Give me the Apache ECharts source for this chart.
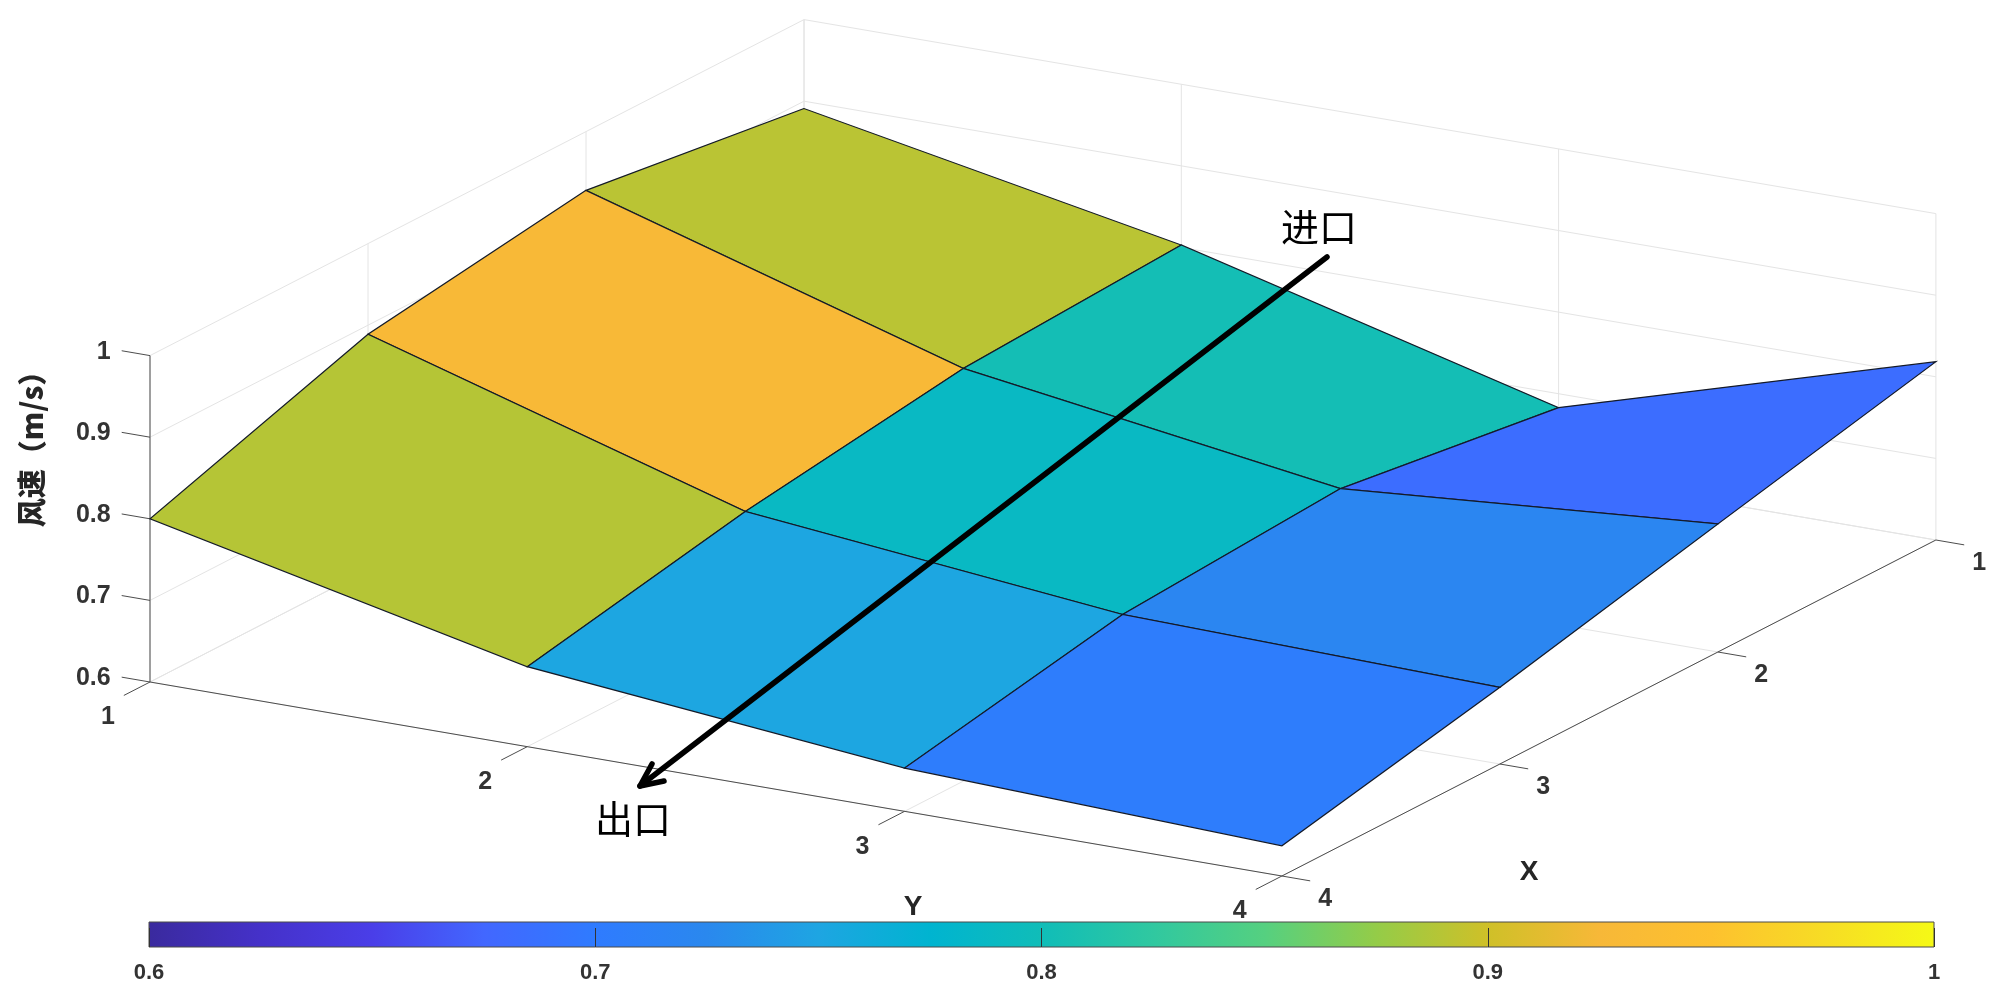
<!DOCTYPE html>
<html>
<head>
<meta charset="utf-8">
<title>风速</title>
<script src="https://cdn.jsdelivr.net/npm/echarts@6/dist/echarts.min.js"></script>
<style>
html, body { margin: 0; padding: 0; background: #fff; }
#chart { width: 2000px; height: 997px; }
</style>
</head>
<body>
<div id="chart"></div>
<script>
// surface values, one row per Y, left to right is X = 1..4
const xTicks = [1, 2, 3, 4];
const yTicks = [1, 2, 3, 4];
const zTicks = [0.6, 0.7, 0.8, 0.9, 1];
const colorTicks = [0.6, 0.7, 0.8, 0.9, 1];
const speedY1 = [0.891, 0.928, 0.889, 0.8];
const speedY2 = [0.803, 0.789, 0.751, 0.698];
const speedY3 = [0.683, 0.721, 0.704, 0.653];
const speedY4 = [0.8185, 0.757, 0.694, 0.637];
const speedRows = [speedY1, speedY2, speedY3, speedY4];
// colormap of the colorbar, evenly spaced from 0.6 to 1
const colormap = [
  "#3a2a9e", "#4531c9", "#4a3ee8", "#4267ff", "#2f7bff", "#2a88ee",
  "#1ea5e2", "#00b4d0", "#10bdb8", "#30c8a0", "#55d080", "#94cc48",
  "#cfc028", "#f7b838", "#fdc12f", "#f7dc25", "#f5f916",
];

const zMin = 0.6;
const zMax = 1;
const fontNum = '"Liberation Sans", Arial, sans-serif';
const fontCjk = '"Noto Sans CJK SC", sans-serif';

// orthographic view, same as the matlab axes
function project(x, y, z) {
  return [
    150 + (4 - x) * 218 + (y - 1) * 377.3,
    682 - (4 - x) * 112 + (y - 1) * 64.67 - (z - zMin) * 816,
  ];
}

function colorOf(v) {
  return echarts.color.lerp((v - zMin) / (zMax - zMin), colormap);
}

// x, y, z, x, y, z
const gridSegs = [];
const axisSegs = [];
const labels = [];
for (const y of yTicks) {
  gridSegs.push([1, y, zMin, 4, y, zMin]);
  gridSegs.push([1, y, zMin, 1, y, zMax]);
  axisSegs.push([4, y, zMin, 4.12, y, zMin]);
  labels.push([4.12, y, zMin, String(y), "y"]);
}
for (const x of xTicks) {
  gridSegs.push([x, 1, zMin, x, 4, zMin]);
  gridSegs.push([x, 1, zMin, x, 1, zMax]);
  axisSegs.push([x, 4, zMin, x, 4.075, zMin]);
  labels.push([x, 4.075, zMin, String(x), "x"]);
}
for (const z of zTicks) {
  gridSegs.push([1, 1, z, 1, 4, z]);
  gridSegs.push([1, 1, z, 4, 1, z]);
  axisSegs.push([4, 1, z, 4, 0.925, z]);
  labels.push([4, 0.925, z, String(z), "z"]);
}
axisSegs.push([4, 1, zMin, 4, 4, zMin]);
axisSegs.push([1, 4, zMin, 4, 4, zMin]);
axisSegs.push([4, 1, zMin, 4, 1, zMax]);

// one face per grid cell, coloured by its first corner, far ones first
const faces = [];
for (let j = 0; j < yTicks.length - 1; j++) {
  for (let i = 0; i < xTicks.length - 1; i++) {
    faces.push([i, j, speedRows[j][i]]);
  }
}

function renderSeg(color) {
  return function (params, api) {
    const a = api.coord(project(api.value(0), api.value(1), api.value(2)));
    const b = api.coord(project(api.value(3), api.value(4), api.value(5)));
    return {
      type: "line",
      shape: { x1: a[0], y1: a[1], x2: b[0], y2: b[1] },
      style: { stroke: color, lineWidth: 1, fill: null },
    };
  };
}

function renderFace(params, api) {
  const i = api.value(0);
  const j = api.value(1);
  const corners = [[i, j], [i + 1, j], [i + 1, j + 1], [i, j + 1]];
  const points = corners.map(c =>
    api.coord(project(xTicks[c[0]], yTicks[c[1]], speedRows[c[1]][c[0]]))
  );
  return {
    type: "polygon",
    shape: { points: points },
    style: { fill: colorOf(api.value(2)), stroke: "#141a28", lineWidth: 1.2 },
  };
}

function renderLabel(params, api) {
  const item = labels[params.dataIndex];
  const p = api.coord(project(item[0], item[1], item[2]));
  const kind = item[4];
  let dx = -16;
  let dy = 22;
  let align = "center";
  if (kind === "x") {
    dx = 15;
    dy = 18;
  } else if (kind === "z") {
    dx = -11;
    dy = 1;
    align = "right";
  }
  return {
    type: "text",
    style: {
      x: p[0] + dx,
      y: p[1] + dy,
      text: item[3],
      fill: "#333333",
      font: "bold 25px " + fontNum,
      align: align,
      verticalAlign: "middle",
    },
  };
}

function renderColorbar(params, api) {
  const a = api.coord([zMin, 0]);
  const b = api.coord([zMax, 1]);
  return {
    type: "rect",
    shape: { x: a[0], y: b[1], width: b[0] - a[0], height: a[1] - b[1] },
    style: {
      fill: new echarts.graphic.LinearGradient(
        0, 0, 1, 0,
        colormap.map((c, i) => ({ offset: i / (colormap.length - 1), color: c }))
      ),
    },
  };
}

function arrowSeg(points, width) {
  return {
    type: "polyline",
    z: 100,
    shape: { points: points },
    style: { stroke: "#000", lineWidth: width, fill: null, lineCap: "round", lineJoin: "round" },
  };
}

function textEl(text, x, y, font, color, rotation) {
  return {
    type: "text",
    z: 100,
    x: x,
    y: y,
    rotation: rotation || 0,
    style: { text: text, font: font, fill: color, align: "center", verticalAlign: "middle" },
  };
}

const myChart = echarts.init(document.getElementById("chart"), null, { renderer: "canvas" });
const option = {
  backgroundColor: "#ffffff",
  animation: false,
  grid: [
    { left: 0, top: 0, width: 2000, height: 997 },
    {
      left: 149, top: 922, width: 1785, height: 25, show: true,
      borderColor: "#4a4a4a", borderWidth: 1, backgroundColor: "transparent", z: 5,
    },
  ],
  xAxis: [
    { type: "value", gridIndex: 0, min: 0, max: 2000, show: false },
    {
      type: "value", gridIndex: 1, min: zMin, max: zMax, interval: 0.1, position: "bottom", z: 5,
      axisLine: { show: false },
      splitLine: { show: false },
      axisTick: { show: true, inside: true, length: 19, lineStyle: { color: "#333", width: 1 } },
      axisLabel: {
        show: true, margin: 15, color: "#333333", fontSize: 22, fontWeight: "bold", fontFamily: fontNum,
        customValues: colorTicks,
      },
    },
  ],
  yAxis: [
    { type: "value", gridIndex: 0, min: 0, max: 997, inverse: true, show: false },
    { type: "value", gridIndex: 1, min: 0, max: 1, show: false },
  ],
  series: [
    {
      type: "custom", xAxisIndex: 0, yAxisIndex: 0, silent: true, z: 1, clip: false,
      renderItem: renderSeg("#e4e4e4"), data: gridSegs,
      encode: { x: 0, y: 1 },
    },
    {
      type: "custom", xAxisIndex: 0, yAxisIndex: 0, silent: true, z: 2, clip: false,
      renderItem: renderSeg("#4d4d4d"), data: axisSegs,
      encode: { x: 0, y: 1 },
    },
    {
      type: "custom", xAxisIndex: 0, yAxisIndex: 0, silent: true, z: 3, clip: false,
      renderItem: renderFace, data: faces,
      encode: { x: 0, y: 1 },
    },
    {
      type: "custom", xAxisIndex: 0, yAxisIndex: 0, silent: true, z: 4, clip: false,
      renderItem: renderLabel, data: labels.map(l => [l[0], l[1], l[2]]),
      encode: { x: 0, y: 1 },
    },
    {
      type: "custom", xAxisIndex: 1, yAxisIndex: 1, silent: true, z: 2,
      renderItem: renderColorbar, data: [[zMin, 0]],
    },
  ],
  graphic: {
    elements: [
      arrowSeg([[1327, 257], [640, 786]], 5.5),
      arrowSeg([[652, 764], [640, 786], [664, 781]], 5.5),
      textEl("进口", 1319, 227, "38px " + fontCjk, "#000"),
      textEl("出口", 633, 819, "38px " + fontCjk, "#000"),
      textEl("风速（m/s）", 32, 442, "900 29px " + fontCjk, "#262626", Math.PI / 2),
      textEl("X", 1529, 872, "bold 28px " + fontNum, "#262626"),
      textEl("Y", 913, 907, "bold 28px " + fontNum, "#262626"),
    ],
  },
};
myChart.setOption(option);
</script>
</body>
</html>
